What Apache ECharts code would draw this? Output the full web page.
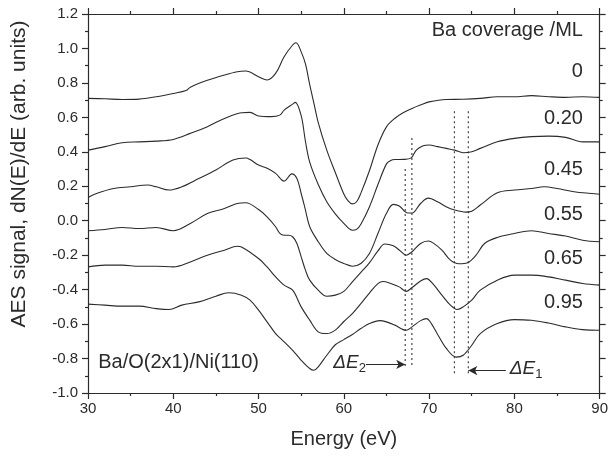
<!DOCTYPE html>
<html><head><meta charset="utf-8">
<script src="https://cdn.jsdelivr.net/npm/echarts@6/dist/echarts.min.js"></script>
<style>html,body{margin:0;padding:0;background:#fff}#c{width:611px;height:457px}</style>
</head><body><div id="c"></div>
<script>
// Spectra: [energy (eV), dN(E)/dE signal]
const cov0 = [[30,0.71],[32,0.708],[34,0.704],[36,0.706],[38,0.72],[40,0.739],[41.5,0.756],[42,0.775],[44,0.815],[46,0.846],[47.5,0.865],[48.5,0.869],[50,0.836],[51,0.817],[52,0.855],[53,0.952],[54,1.02],[54.4,1.033],[55,0.98],[55.5,0.91],[56,0.79],[56.5,0.68],[57,0.57],[58,0.41],[59,0.28],[60,0.155],[60.5,0.115],[61,0.098],[61.5,0.11],[62,0.16],[63,0.29],[64,0.44],[65,0.545],[66,0.595],[67,0.628],[68,0.652],[69,0.672],[70,0.69],[72,0.704],[74,0.705],[76,0.71],[78,0.72],[80,0.72],[82,0.726],[84,0.72],[86,0.716],[88,0.72],[90,0.716]];
const cov020 = [[30,0.41],[32,0.43],[34,0.453],[36,0.458],[38,0.462],[40,0.472],[42,0.507],[44,0.546],[46,0.594],[48,0.627],[49,0.629],[50,0.608],[51.5,0.604],[52.5,0.613],[53,0.642],[54,0.677],[54.3,0.687],[55,0.61],[55.5,0.46],[56,0.34],[57,0.21],[58,0.11],[59,0.04],[60,-0.015],[61,-0.055],[61.5,-0.05],[62,-0.02],[63,0.08],[64,0.21],[65,0.33],[65.5,0.35],[66,0.355],[67,0.356],[67.9,0.365],[68.5,0.41],[69.3,0.435],[70,0.44],[71,0.43],[72,0.42],[73,0.41],[74,0.395],[75,0.40],[76,0.42],[78,0.458],[80,0.478],[82,0.488],[84,0.491],[86,0.484],[88,0.458],[90,0.458]];
const cov045 = [[30,0.135],[31,0.158],[33,0.187],[35,0.197],[37,0.207],[38,0.197],[39.5,0.178],[41,0.197],[43,0.245],[45,0.295],[47,0.352],[48.5,0.364],[49,0.355],[50,0.323],[51,0.304],[52,0.275],[53,0.23],[53.9,0.272],[54.5,0.245],[55,0.158],[55.5,0.062],[56,-0.035],[57,-0.122],[58,-0.19],[59,-0.225],[60,-0.248],[61,-0.264],[62,-0.248],[63,-0.19],[64,-0.074],[65,0.043],[65.8,0.095],[66.5,0.085],[67.5,0.045],[68,0.045],[69,0.1],[69.9,0.131],[71,0.11],[72,0.081],[73,0.062],[74.3,0.05],[75,0.055],[76,0.091],[78,0.162],[80,0.178],[82,0.187],[83.5,0.197],[85,0.187],[87,0.168],[89,0.158],[90,0.154]];
const cov055 = [[30,-0.058],[32,-0.051],[34,-0.039],[36,-0.045],[38,-0.039],[40,-0.058],[42,-0.016],[44,0.042],[46,0.071],[47.5,0.1],[48.5,0.104],[50,0.065],[51,0.023],[52,-0.035],[52.5,-0.074],[53,-0.084],[53.5,-0.084],[54,-0.093],[54.5,-0.132],[55,-0.21],[55.5,-0.287],[56,-0.345],[57,-0.403],[58,-0.438],[59,-0.432],[60,-0.41],[61,-0.355],[62,-0.3],[63,-0.245],[64,-0.175],[64.8,-0.135],[65.8,-0.145],[66.5,-0.17],[67.3,-0.2],[68,-0.18],[69,-0.132],[69.9,-0.118],[70.5,-0.13],[71.5,-0.171],[72.5,-0.229],[73.5,-0.25],[74.5,-0.244],[75.5,-0.2],[76.5,-0.132],[78,-0.097],[80,-0.074],[82,-0.058],[84,-0.074],[86,-0.089],[88,-0.113],[90,-0.122]];
const cov065 = [[30,-0.268],[32,-0.258],[34,-0.258],[36,-0.264],[38,-0.264],[40,-0.268],[42,-0.239],[44,-0.2],[46,-0.171],[47.5,-0.148],[48,-0.152],[50,-0.219],[51,-0.268],[52,-0.326],[53,-0.374],[54,-0.403],[55,-0.5],[56,-0.577],[57,-0.645],[58,-0.655],[59,-0.635],[60,-0.585],[61,-0.539],[62,-0.481],[63,-0.42],[64,-0.365],[64.6,-0.353],[65.5,-0.364],[66.5,-0.384],[67.3,-0.41],[68,-0.388],[69,-0.35],[69.7,-0.336],[70.5,-0.37],[71.5,-0.432],[72.5,-0.49],[73.3,-0.515],[74,-0.5],[75,-0.461],[76,-0.403],[78,-0.345],[80,-0.316],[82,-0.316],[84,-0.326],[86,-0.345],[88,-0.364],[90,-0.374]];
const cov095 = [[30,-0.484],[32,-0.49],[34,-0.496],[36,-0.496],[38,-0.51],[39.5,-0.515],[41,-0.49],[43,-0.471],[45,-0.438],[46.5,-0.418],[48,-0.432],[49,-0.461],[50,-0.519],[51,-0.587],[52,-0.655],[53,-0.703],[54,-0.752],[55,-0.81],[56,-0.858],[56.5,-0.868],[57,-0.848],[58,-0.781],[59,-0.72],[60,-0.69],[61,-0.66],[62,-0.626],[63,-0.597],[64.2,-0.58],[65,-0.587],[66,-0.606],[67.3,-0.636],[68,-0.616],[69,-0.58],[69.7,-0.568],[70.3,-0.6],[71,-0.66],[72,-0.74],[73.2,-0.792],[74,-0.781],[75,-0.723],[76,-0.655],[78,-0.597],[80,-0.574],[82,-0.578],[84,-0.594],[86,-0.616],[88,-0.632],[90,-0.636]];

const spectra = [cov0, cov020, cov045, cov055, cov065, cov095];
const coverageLabels = ['0', '0.20', '0.45', '0.55', '0.65', '0.95'];
const coverageLabelY = [0.867, 0.596, 0.30, 0.034, -0.221, -0.475];

// dotted marker lines: [energy, top, bottom]
const dottedLines = [[67.2, 0.30, -0.85], [67.98, 0.48, -0.855], [72.97, 0.635, -0.9], [74.6, 0.635, -0.9]];
// arrows: [from E, to E, y]
const arrowDE2 = [62.6, 67.2, -0.834];
const arrowDE1 = [79.0, 74.6, -0.87];

const xTicks = {min: 30, max: 90, interval: 10};
const yTicks = {min: -1.0, max: 1.2, interval: 0.2};

const chart = echarts.init(document.getElementById('c'), null, {renderer: 'canvas'});
const ink = '#2b2b2b';
const font = "'Liberation Sans', Arial, sans-serif";

const series = spectra.map((d, i) => ({
  type: 'line', data: d, showSymbol: false, symbol: 'none', smooth: 0.35,
  lineStyle: {color: ink, width: 1.1}, silent: true, z: 3
}));
dottedLines.forEach(l => series.push({
  type: 'line', data: [[l[0], l[1]], [l[0], l[2]]], symbol: 'none', silent: true,
  lineStyle: {color: '#444', width: 1.2, type: [2, 3]}, z: 2
}));
series.push({
  type: 'line', data: [], symbol: 'none', silent: true,
  markLine: {
    silent: true, symbol: ['none', 'arrow'], symbolSize: [7, 9],
    lineStyle: {color: ink, width: 1.2, type: 'solid'}, label: {show: false},
    data: [
      [{coord: [arrowDE2[0], arrowDE2[2]]}, {coord: [arrowDE2[1], arrowDE2[2]]}],
      [{coord: [arrowDE1[0], arrowDE1[2]]}, {coord: [arrowDE1[1], arrowDE1[2]]}]
    ]
  }
});

function axisCommon() {
  return {
    axisLine: {show: true, onZero: false, lineStyle: {color: ink, width: 1.2}},
    axisTick: {show: true, inside: false, length: 6, lineStyle: {color: ink, width: 1.2}},
    minorTick: {show: true, splitNumber: 2, length: 3, lineStyle: {color: ink, width: 1.2}},
    splitLine: {show: false}
  };
}

chart.setOption({
  animation: false,
  backgroundColor: '#fff',
  grid: {left: 88, right: 8, top: 14, bottom: 64},
  xAxis: [
    Object.assign({type: 'value', position: 'bottom', min: xTicks.min, max: xTicks.max, interval: xTicks.interval,
      axisLabel: {color: ink, fontSize: 15, fontFamily: font, margin: 8},
      name: 'Energy (eV)', nameLocation: 'middle', nameGap: 36,
      nameTextStyle: {color: ink, fontSize: 20, fontFamily: font}}, axisCommon()),
    Object.assign({type: 'value', position: 'top', min: xTicks.min, max: xTicks.max, interval: xTicks.interval,
      axisLabel: {show: false}}, axisCommon())
  ],
  yAxis: [
    Object.assign({type: 'value', position: 'left', min: yTicks.min, max: yTicks.max, interval: yTicks.interval,
      axisLabel: {color: ink, fontSize: 15, fontFamily: font, margin: 10, formatter: v => v.toFixed(1)}}, axisCommon()),
    Object.assign({type: 'value', position: 'right', min: yTicks.min, max: yTicks.max, interval: yTicks.interval,
      axisLabel: {show: false}}, axisCommon())
  ],
  series: series
});

const px = (x, y) => chart.convertToPixel({xAxisIndex: 0, yAxisIndex: 0}, [x, y]);
const graphics = [];
const labelX = 88.04;
const titlePos = px(labelX, 1.105);
graphics.push({type: 'text', x: titlePos[0], y: titlePos[1], style: {text: 'Ba coverage /ML', fill: ink, font: '20px ' + font, textAlign: 'right', textVerticalAlign: 'middle'}});
coverageLabels.forEach((t, i) => {
  const p = px(labelX, coverageLabelY[i]);
  graphics.push({type: 'text', x: p[0], y: p[1], style: {text: t, fill: ink, font: '20px ' + font, textAlign: 'right', textVerticalAlign: 'middle'}});
});
const sysPos = px(31.2, -0.824);
graphics.push({type: 'text', x: sysPos[0], y: sysPos[1], style: {text: 'Ba/O(2x1)/Ni(110)', fill: ink, font: '20px ' + font, textAlign: 'left', textVerticalAlign: 'middle'}});
const de2 = px(arrowDE2[0], arrowDE2[2]);
graphics.push({type: 'text', x: de2[0], y: de2[1] - 2, style: {
  rich: {i: {fontStyle: 'italic', fontSize: 19, fontFamily: font, fill: ink}, s: {fontSize: 13, fontFamily: font, fill: ink, padding: [12, 0, 0, 0]}},
  text: '{i|ΔE}{s|2}', textAlign: 'right', textVerticalAlign: 'middle'}});
const de1 = px(arrowDE1[0], arrowDE1[2]);
graphics.push({type: 'text', x: de1[0] + 4, y: de1[1] - 2, style: {
  rich: {i: {fontStyle: 'italic', fontSize: 19, fontFamily: font, fill: ink}, s: {fontSize: 13, fontFamily: font, fill: ink, padding: [12, 0, 0, 0]}},
  text: '{i|ΔE}{s|1}', textAlign: 'left', textVerticalAlign: 'middle'}});
graphics.push({type: 'text', x: 19, y: 174, rotation: Math.PI / 2, style: {text: 'AES signal, dN(E)/dE (arb. units)', fill: ink, font: '21px ' + font, textAlign: 'center', textVerticalAlign: 'middle'}});
chart.setOption({graphic: graphics});
</script>
</body></html>
